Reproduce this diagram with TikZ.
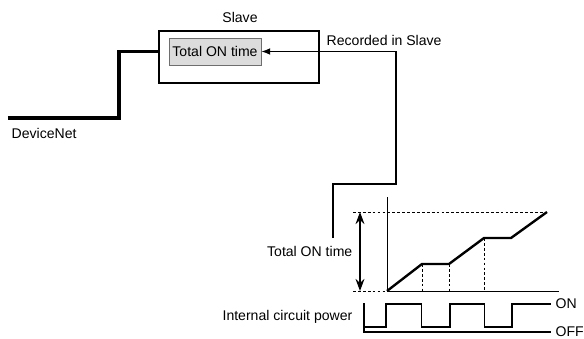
\documentclass[tikz,border=0pt]{standalone}
\usepackage{fontspec}
\setmainfont{Liberation Sans}
\usetikzlibrary{positioning, arrows.meta, calc}
\definecolor{fieldgray}{HTML}{DCDCDC}
\definecolor{edgegray}{HTML}{6E6E6E}

\begin{document}
\begin{tikzpicture}[
  unit/.style={draw, line width=1.3pt, minimum width=4cm,
    minimum height=1.3cm},
  field/.style={draw=edgegray, fill=fieldgray, line width=0.6pt,
    minimum width=2.3cm, minimum height=0.675cm, inner sep=1pt},
  bus/.style={line width=2.2pt},
  wire/.style={line width=0.9pt},
  axis/.style={line width=0.7pt},
  trend/.style={line width=1.7pt},
  guide/.style={line width=0.5pt, dash pattern=on 2pt off 1.5pt},
  txt/.style={inner sep=1pt},
]
  \useasboundingbox (0,0) rectangle (14.6,8.45);

  % Slave unit
  \node[unit] (slave) at (5.975,7.025) {};
  \node[txt] (slavelbl) at (6.0,8.025) {Slave};
  \node[field] (total) at (5.375,7.1625) {Total ON time};
  \node[txt, anchor=west] (recorded) at (8.125,7.45) {Recorded in Slave};

  % DeviceNet cable
  \coordinate (dn) at (0.2,5.5);
  \coordinate (dnbend) at (2.975,5.5);
  \draw[bus] (dn) -- (dnbend) |- (slave.west |- total);
  \node[txt, anchor=west] (dnlbl) at (0.25,5.125) {DeviceNet};

  % Feed back into the Slave
  \coordinate (feed) at (8.325,2.5);
  \coordinate (feedturn) at (9.9,3.85);
  \draw[wire, -{Latex[length=2.2mm, width=1.7mm]}]
    (feed) |- (feedturn) |- (total.east);

  % Time chart
  \coordinate (o) at (9.675,1.175);
  \coordinate (ytop) at (9.675,3.525);
  \coordinate (xend) at (13.975,1.175);
  \coordinate (p1) at (10.55,1.85);
  \coordinate (p2) at (11.225,1.85);
  \coordinate (p3) at (12.1,2.5);
  \coordinate (p4) at (12.775,2.5);
  \coordinate (p5) at (13.675,3.15);
  \coordinate (mtop) at (8.825,3.15);
  \coordinate (mbot) at (8.825,1.175);

  \draw[axis] (ytop) -- (o) -- (xend);
  \draw[guide] (mtop) -- (p5);
  \draw[guide] (mbot) -- (o);
  \foreach \p in {p1, p2, p3}
    \draw[guide] (\p) -- (\p |- o);
  \draw[trend, line join=miter] (o) -- (p1) -- (p2) -- (p3) -- (p4) -- (p5);

  \draw[trend, {Stealth[length=3mm, width=2.2mm]}-{Stealth[length=3mm, width=2.2mm]}]
    (9.0,3.15) -- (9.0,1.175);
  \node[txt, anchor=east] (ontime) at (8.85,2.175) {Total ON time};

  % Internal circuit power
  \draw[wire] (9.1,0.875) -- (9.1,0.15) -- (13.775,0.15);
  \draw[wire] (9.1,0.275) -- (9.65,0.275) -- (9.65,0.85) -- (10.53,0.85)
    -- (10.53,0.275) -- (11.25,0.275) -- (11.25,0.85) -- (12.12,0.85)
    -- (12.12,0.275) -- (12.8,0.275) -- (12.8,0.85) -- (13.775,0.85);
  \node[txt, anchor=west] (onlbl) at (13.85,0.85) {ON};
  \node[txt, anchor=west] (offlbl) at (13.85,0.15) {OFF};
  \node[txt, anchor=east] (power) at (8.85,0.525) {Internal circuit power};
\end{tikzpicture}
\end{document}
